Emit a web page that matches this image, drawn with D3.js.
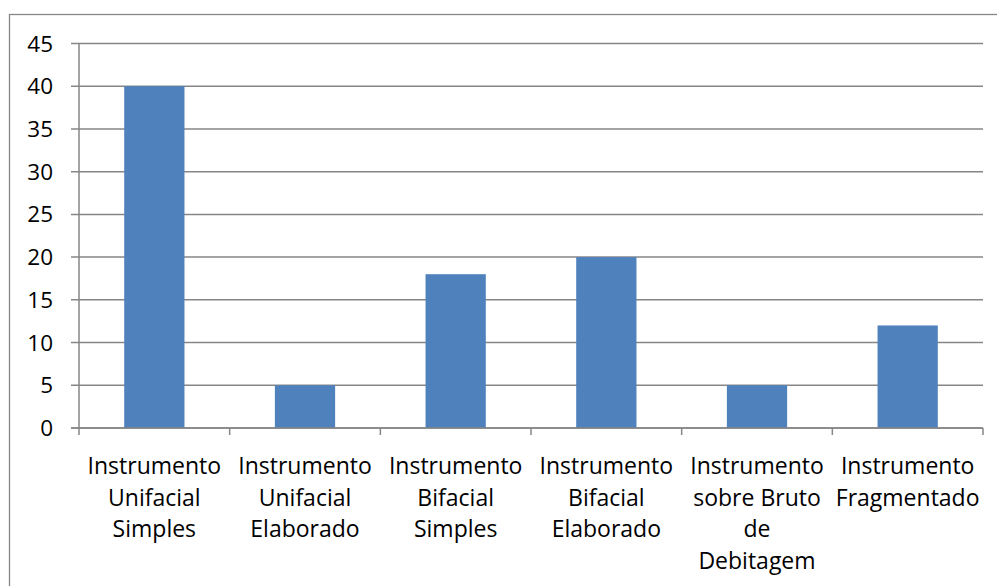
<!DOCTYPE html>
<html>
<head>
<meta charset="utf-8">
<script src="https://cdn.jsdelivr.net/npm/d3@7"></script>
<style>
  body { margin: 0; background: #fff; }
  text { font-family: "Open Sans", Lato, sans-serif; fill: #000; }
</style>
</head>
<body>
<div id="chart"></div>
<script>
var categories = [
    ["Instrumento", "Unifacial", "Simples"],
    ["Instrumento", "Unifacial", "Elaborado"],
    ["Instrumento", "Bifacial", "Simples"],
    ["Instrumento", "Bifacial", "Elaborado"],
    ["Instrumento", "sobre Bruto", "de", "Debitagem"],
    ["Instrumento", "Fragmentado"]
];
var values = [40, 5, 18, 20, 5, 12];
var yTicks = [0, 5, 10, 15, 20, 25, 30, 35, 40, 45];

var W = 997, H = 586;
var margin = { top: 43.5, right: 14, bottom: 158, left: 79 };
var width = W - margin.left - margin.right;
var height = H - margin.top - margin.bottom;

var svg = d3.select("#chart").append("svg")
    .attr("width", W)
    .attr("height", H);

// outer frame
svg.append("rect")
    .attr("x", 9.5).attr("y", 14.5)
    .attr("width", 1000).attr("height", 600)
    .attr("fill", "none")
    .attr("stroke", "#868686")
    .attr("stroke-width", 1.3);

var g = svg.append("g")
    .attr("transform", "translate(" + margin.left + "," + margin.top + ")");

var x = d3.scaleBand()
    .domain(d3.range(categories.length))
    .range([0, width])
    .paddingInner(0.6)
    .paddingOuter(0.3);

var xc = d3.scaleLinear()
    .domain([0, categories.length])
    .range([0, width]);

var y = d3.scaleLinear()
    .domain([0, 45])
    .range([height, 0]);

// gridlines + y ticks
g.selectAll(".grid")
    .data(yTicks).enter().append("line")
    .attr("x1", -8).attr("x2", width)
    .attr("y1", function(d) { return y(d); })
    .attr("y2", function(d) { return y(d); })
    .attr("stroke", "#868686")
    .attr("stroke-width", 1.5);

g.selectAll(".ylab")
    .data(yTicks).enter().append("text")
    .attr("x", -26)
    .attr("y", function(d) { return y(d); })
    .attr("dy", "0.36em")
    .style("text-anchor", "end")
    .style("font-size", "22.5px")
    .text(function(d) { return d; });

// bars
g.selectAll(".bar")
    .data(values).enter().append("rect")
    .attr("x", function(d, i) { return x(i); })
    .attr("width", x.bandwidth())
    .attr("y", function(d) { return y(d); })
    .attr("height", function(d) { return height - y(d); })
    .attr("fill", "#4F81BD");

// axes lines
g.append("line")
    .attr("x1", 0).attr("x2", 0)
    .attr("y1", 0).attr("y2", height)
    .attr("stroke", "#868686").attr("stroke-width", 1.5);
g.append("line")
    .attr("x1", -8).attr("x2", width)
    .attr("y1", height).attr("y2", height)
    .attr("stroke", "#868686").attr("stroke-width", 1.5);

g.selectAll(".xtick")
    .data(d3.range(categories.length + 1)).enter().append("line")
    .attr("x1", function(d) { return xc(d); })
    .attr("x2", function(d) { return xc(d); })
    .attr("y1", height).attr("y2", height + 7)
    .attr("stroke", "#868686").attr("stroke-width", 1.5);

// category labels
var labels = g.selectAll(".xlab")
    .data(categories).enter().append("text")
    .attr("transform", function(d, i) {
        return "translate(" + (xc(i) + xc(1) / 2) + "," + (height + 46) + ")";
    })
    .style("text-anchor", "middle")
    .style("font-size", "23px");

labels.selectAll("tspan")
    .data(function(d) { return d; }).enter().append("tspan")
    .attr("x", 0)
    .attr("y", function(d, i) { return i * 31.5; })
    .text(function(d) { return d; });
</script>
</body>
</html>
